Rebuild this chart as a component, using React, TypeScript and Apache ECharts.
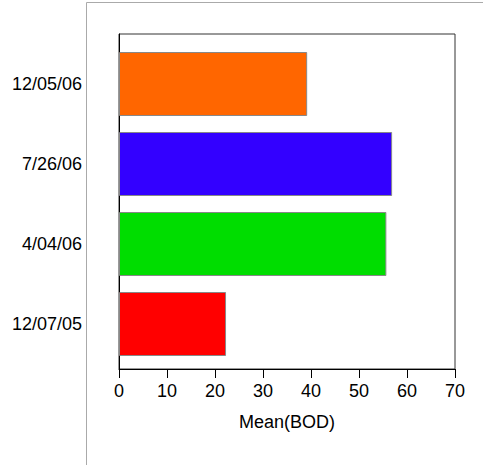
import React, { useEffect, useRef } from "react";
import * as echarts from "echarts";

const categories = ["12/07/05", "4/04/06", "7/26/06", "12/05/06"];
const meanBOD = [22.3, 55.7, 56.9, 39.2];
const barColors = ["#FF0000", "#00DD00", "#3300FF", "#FF6600"];
const xTicks = { min: 0, max: 70, interval: 10 };

export default function App() {
  const ref = useRef<HTMLDivElement>(null);
  useEffect(() => {
    if (!ref.current) return;
    const chart = echarts.init(ref.current, undefined, { renderer: "svg" });
    const font = "Liberation Sans, Arial, sans-serif";
    chart.setOption({
      animation: false,
      backgroundColor: "#ffffff",
      grid: [
        { left: 119, top: 44, width: 336, height: 320, containLabel: false },
        {
          left: 119,
          top: 34,
          width: 336,
          height: 335,
          show: true,
          borderColor: "#333",
          borderWidth: 1,
          backgroundColor: "transparent",
          z: 0,
        },
      ],
      xAxis: [
        { gridIndex: 0, type: "value", min: xTicks.min, max: xTicks.max, show: false },
        {
          gridIndex: 1,
          type: "value",
          min: xTicks.min,
          max: xTicks.max,
          interval: xTicks.interval,
          name: "Mean(BOD)",
          nameLocation: "middle",
          nameGap: 44,
          nameTextStyle: { fontFamily: font, fontSize: 18, color: "#000" },
          axisLine: { show: true, lineStyle: { color: "#000", width: 1 } },
          axisTick: { show: true, inside: false, length: 9, lineStyle: { color: "#000" } },
          axisLabel: { fontFamily: font, fontSize: 18, color: "#000", margin: 13 },
          splitLine: { show: false },
        },
      ],
      yAxis: [
        {
          gridIndex: 0,
          type: "category",
          data: categories,
          axisLine: { show: false },
          axisTick: { show: false },
          axisLabel: { fontFamily: font, fontSize: 18, color: "#000", margin: 37 },
        },
        {
          gridIndex: 1,
          type: "value",
          min: 0,
          max: 1,
          axisLine: { show: true, lineStyle: { color: "#000" } },
          axisTick: { show: false },
          axisLabel: { show: false },
          splitLine: { show: false },
        },
      ],
      series: [
        {
          type: "bar",
          xAxisIndex: 0,
          yAxisIndex: 0,
          barCategoryGap: "20%",
          data: meanBOD.map((v, i) => ({
            value: v,
            itemStyle: { color: barColors[i], borderColor: "#888", borderWidth: 1 },
          })),
          z: 3,
        },
      ],
      graphic: [
        {
          type: "line",
          shape: { x1: 86.5, y1: 2.5, x2: 86.5, y2: 465 },
          style: { stroke: "#aaa", lineWidth: 1 },
        },
        {
          type: "line",
          shape: { x1: 86.5, y1: 2.5, x2: 483, y2: 2.5 },
          style: { stroke: "#aaa", lineWidth: 1 },
        },
      ],
    });
    return () => chart.dispose();
  }, []);
  return <div ref={ref} style={{ width: 483, height: 465, position: "absolute", left: 0, top: 0 }} />;
}
